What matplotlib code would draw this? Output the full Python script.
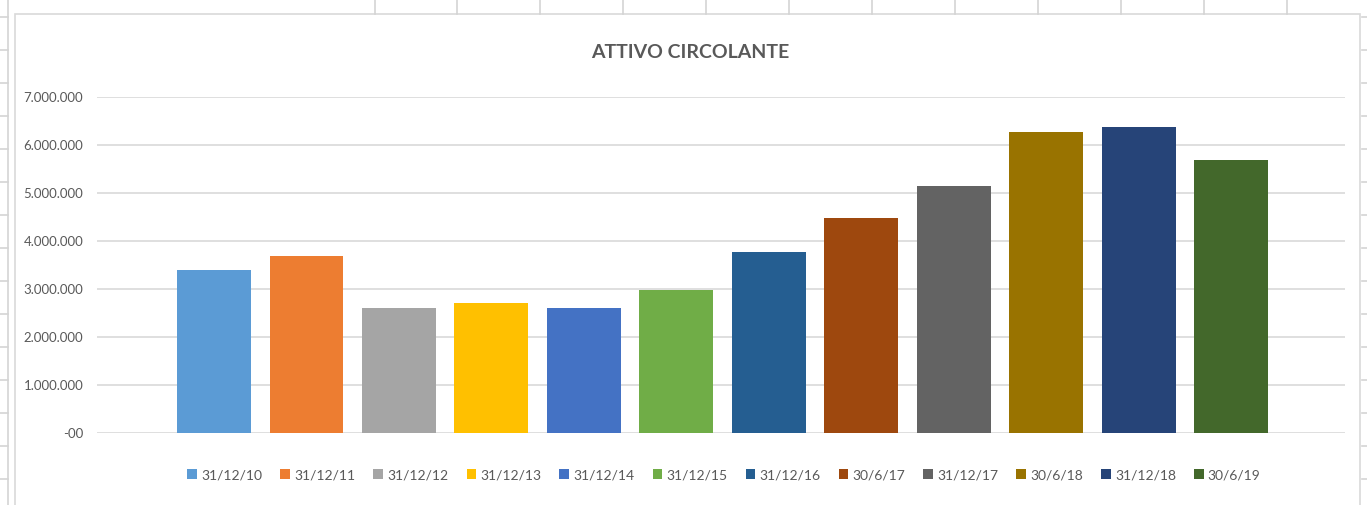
import numpy as np
import matplotlib
matplotlib.use("Agg")
import matplotlib.pyplot as plt
from matplotlib.lines import Line2D
from matplotlib.patches import Rectangle

plt.rcParams['font.family'] = ['Lato', 'DejaVu Sans']

# data
dates = ["31/12/10", "31/12/11", "31/12/12", "31/12/13", "31/12/14", "31/12/15",
         "31/12/16", "30/6/17", "31/12/17", "30/6/18", "31/12/18", "30/6/19"]
values = [3400000, 3690000, 2600000, 2710000, 2600000, 2980000,
          3770000, 4480000, 5150000, 6270000, 6375000, 5690000]
colors = ["#5B9BD5", "#ED7D31", "#A5A5A5", "#FFC000", "#4472C4", "#70AD47",
          "#255E91", "#9E480E", "#636363", "#997300", "#264478", "#43682B"]
yticks = [0, 1000000, 2000000, 3000000, 4000000, 5000000, 6000000, 7000000]
ytick_labels = ["-00", "1.000.000", "2.000.000", "3.000.000", "4.000.000",
                "5.000.000", "6.000.000", "7.000.000"]

W, H = 1367, 505
fig = plt.figure(figsize=(W / 100, H / 100), dpi=100)

def fx(x):
    return x / W

def fy(y):
    return 1 - y / H

### spreadsheet cells behind the chart
grid_c = "#D4D4D4"
for x in [375, 457, 540, 623, 706, 789, 872, 955, 1038, 1121, 1204, 1287]:
    fig.add_artist(Line2D([fx(x), fx(x)], [fy(0), fy(14)], color=grid_c, lw=1.2))
fig.add_artist(Line2D([fx(8), fx(8)], [fy(0), fy(H)], color=grid_c, lw=1.2))
for y in range(17, H, 33):
    fig.add_artist(Line2D([fx(0), fx(8)], [fy(y), fy(y)], color=grid_c, lw=1.2))
    fig.add_artist(Line2D([fx(1362), fx(W)], [fy(y), fy(y)], color=grid_c, lw=1.2))

### chart area border
fig.add_artist(Rectangle((fx(15), fy(H + 5)), fx(1360) - fx(15), fy(14) - fy(H + 5),
                         facecolor="white", edgecolor="#D9D9D9", lw=1.2, zorder=0))

ax = fig.add_axes([fx(97), fy(433), fx(1345) - fx(97), fy(97) - fy(433)])
ax.set_facecolor("none")
x = np.arange(len(values))
for i in range(len(values)):
    ax.bar(x[i], values[i], width=0.8, color=colors[i], label=dates[i], zorder=3)

ax.set_xlim(-1.266, 12.233)
ax.set_ylim(0, 7000000)
ax.set_yticks(yticks)
ax.set_yticklabels(ytick_labels)
ax.set_xticks([])
ax.tick_params(axis="y", length=0, pad=10, labelsize=9.5, labelcolor="#595959")
ax.grid(axis="y", color="#D9D9D9", lw=1.2, zorder=0)
for s in ax.spines.values():
    s.set_visible(False)

fig.text(fx(690), fy(53), "ATTIVO CIRCOLANTE", ha="center", va="center",
         fontsize=14, fontweight="bold", color="#595959")

leg = ax.legend(loc="center", bbox_to_anchor=(fx(724), fy(475)),
                bbox_transform=fig.transFigure, ncol=12, frameon=False,
                fontsize=10, handlelength=0.7, handleheight=0.7,
                handletextpad=0.3, columnspacing=1.3, labelcolor="#595959")

fig.savefig("out.png", dpi=100)
